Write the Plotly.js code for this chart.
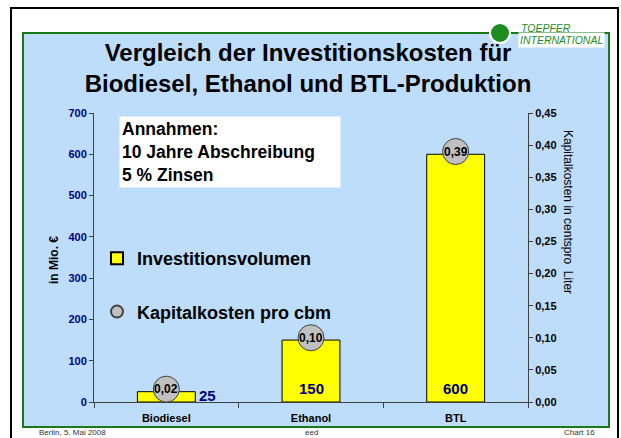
<!DOCTYPE html>
<html>
<head>
<meta charset="utf-8">
<script src="https://cdn.plot.ly/plotly-3.0.1.min.js"></script>
<style>
  body { margin: 0; background: #fff; }
  #chart { width: 621px; height: 438px; }
</style>
</head>
<body>
<div id="chart"></div>
<script>
// chart values
var categories = ['Biodiesel', 'Ethanol', 'BTL'];
var investVolumen = [25, 150, 600];          // in Mio. €
var kapitalKosten = [0.02, 0.10, 0.39];      // cent pro Liter
var leftTicks = [0, 100, 200, 300, 400, 500, 600, 700];
var rightTicks = [0, 0.05, 0.10, 0.15, 0.20, 0.25, 0.30, 0.35, 0.40, 0.45];

var FONT = 'Liberation Sans, Arial, sans-serif';
var NAVY = '#000080';

// plot area in pixels: left 94, right 528, top 113, bottom 402
function fx(px) { return (px - 94) / 434; }
function fy(py) { return (402 - py) / 289; }

function komma(v) { return v.toFixed(2).replace('.', ','); }

var bars = {
    type: 'bar',
    x: categories,
    y: investVolumen,
    width: 0.4,
    name: 'Investitionsvolumen',
    legendgroup: 'a',
    marker: {color: '#FFFF00', line: {color: '#000', width: 1}},
    hoverinfo: 'skip'
};

var kreise = {
    type: 'scatter',
    mode: 'markers',
    x: categories,
    y: kapitalKosten,
    yaxis: 'y2',
    name: 'Kapitalkosten pro cbm',
    legendgroup: 'b',
    marker: {size: 26, color: '#C0C0C0', line: {color: '#404040', width: 1}},
    hoverinfo: 'skip'
};

var annotations = [];

// value labels of the bars
for (var i = 0; i < categories.length; i++) {
    var small = investVolumen[i] < 50;
    annotations.push({
        x: categories[i], y: 0, xref: 'x', yref: 'y',
        text: '<b>' + investVolumen[i] + '</b>',
        showarrow: false,
        font: {family: FONT, size: 15, color: NAVY},
        xanchor: 'center', yanchor: 'middle',
        xshift: small ? 41 : 0,
        yshift: small ? 7 : 14
    });
}

// labels in the circles
for (var i = 0; i < categories.length; i++) {
    annotations.push({
        x: categories[i], y: kapitalKosten[i], xref: 'x', yref: 'y2',
        text: '<b>' + komma(kapitalKosten[i]) + '</b>',
        showarrow: false,
        font: {family: FONT, size: 12, color: '#000'},
        xanchor: 'center', yanchor: 'middle'
    });
}

// Annahmen box
annotations.push({
    xref: 'paper', yref: 'paper', x: fx(119), y: fy(116),
    xanchor: 'left', yanchor: 'top', align: 'left',
    text: '<b>Annahmen:<br>10 Jahre Abschreibung<br>5 % Zinsen</b>',
    showarrow: false,
    bgcolor: '#fff', borderpad: 2, width: 216,
    font: {family: FONT, size: 17.5, color: '#000'}
});

// axis titles
annotations.push({
    xref: 'paper', yref: 'paper', x: fx(54), y: fy(260),
    xanchor: 'center', yanchor: 'middle',
    text: '<b>in Mio. €</b>', textangle: -90, showarrow: false,
    font: {family: FONT, size: 12, color: '#000'}
});
annotations.push({
    xref: 'paper', yref: 'paper', x: fx(568), y: fy(212),
    xanchor: 'center', yanchor: 'middle',
    text: 'Kapitalkosten in centspro\u00a0 Liter', textangle: 90, showarrow: false,
    font: {family: FONT, size: 12, color: '#000'}
});

// logo
annotations.push({
    xref: 'paper', yref: 'paper', x: fx(519), y: fy(28),
    xanchor: 'left', yanchor: 'middle',
    text: '<i>TOEPFER</i>', showarrow: false,
    font: {family: FONT, size: 10.5, color: '#1E8C1E'}
});
annotations.push({
    xref: 'paper', yref: 'paper', x: fx(518), y: fy(40),
    xanchor: 'left', yanchor: 'middle',
    text: '<i>INTERNATIONAL</i>', showarrow: false,
    bgcolor: '#fff', borderpad: 1,
    font: {family: FONT, size: 10.5, color: '#1E8C1E'}
});

// footer
var footer = [['Berlin, 5. Mai 2008', 37, 'left'], ['eed', 311, 'center'], ['Chart 16', 597, 'right']];
footer.forEach(function (f) {
    annotations.push({
        xref: 'paper', yref: 'paper', x: fx(f[1]), y: fy(432),
        xanchor: f[2], yanchor: 'middle', text: f[0], showarrow: false,
        font: {family: FONT, size: 8, color: '#333'}
    });
});

var shapes = [
    // outer black frame
    {type: 'rect', xref: 'paper', yref: 'paper', x0: fx(11), x1: fx(618), y0: fy(450), y1: fy(8),
     line: {color: '#000', width: 2}, fillcolor: 'rgba(0,0,0,0)', layer: 'below'},
    // light blue panel
    {type: 'rect', xref: 'paper', yref: 'paper', x0: fx(23), x1: fx(609), y0: fy(427), y1: fy(33),
     line: {color: '#1A7A1A', width: 2}, fillcolor: '#BEDDFA', layer: 'below'},
    // logo circle
    {type: 'circle', xref: 'paper', yref: 'paper', x0: fx(490), x1: fx(510), y0: fy(43), y1: fy(23),
     line: {color: '#fff', width: 2}, fillcolor: '#1E8C1E', layer: 'above'}
];

var layout = {
    width: 621,
    height: 438,
    margin: {l: 94, r: 93, t: 113, b: 36},
    paper_bgcolor: '#fff',
    plot_bgcolor: 'rgba(0,0,0,0)',
    separators: ',.',
    font: {family: FONT, color: '#000'},
    title: {
        text: '<b>Vergleich der Investitionskosten für<br>Biodiesel, Ethanol und BTL-Produktion</b>',
        font: {family: FONT, size: 24, color: '#000'},
        x: 0.496, xanchor: 'center', xref: 'container',
        y: 1 - 61 / 438, yanchor: 'top', yref: 'container'
    },
    xaxis: {
        type: 'category',
        range: [-0.5, 2.5],
        tickson: 'boundaries',
        ticks: 'outside', ticklen: 5, tickcolor: '#404040',
        ticklabelstandoff: 6,
        showline: true, linecolor: '#404040', linewidth: 1,
        showgrid: false, zeroline: false,
        tickfont: {family: FONT, size: 11, color: '#000', weight: 'bold'}
    },
    yaxis: {
        range: [0, 700],
        tickvals: leftTicks,
        ticks: 'outside', ticklen: 4, tickcolor: '#404040',
        showline: true, linecolor: '#404040', linewidth: 1,
        showgrid: false, zeroline: false,
        tickfont: {family: FONT, size: 11, color: NAVY, weight: 'bold'}
    },
    yaxis2: {
        overlaying: 'y', side: 'right',
        range: [0, 0.45],
        tickvals: rightTicks, tickformat: '.2f',
        ticks: 'outside', ticklen: 4, tickcolor: '#404040',
        showline: true, linecolor: '#404040', linewidth: 1,
        showgrid: false, zeroline: false,
        tickfont: {family: FONT, size: 11, color: '#000', weight: 'bold'}
    },
    showlegend: true,
    legend: {
        x: fx(97), y: fy(240), xanchor: 'left', yanchor: 'top',
        bgcolor: 'rgba(0,0,0,0)',
        traceorder: 'grouped', tracegroupgap: 27,
        itemsizing: 'constant', itemwidth: 30,
        font: {family: FONT, size: 18, color: '#000', weight: 'bold'}
    },
    annotations: annotations,
    shapes: shapes
};

Plotly.newPlot('chart', [bars, kreise], layout, {displayModeBar: false, staticPlot: true});
</script>
</body>
</html>
